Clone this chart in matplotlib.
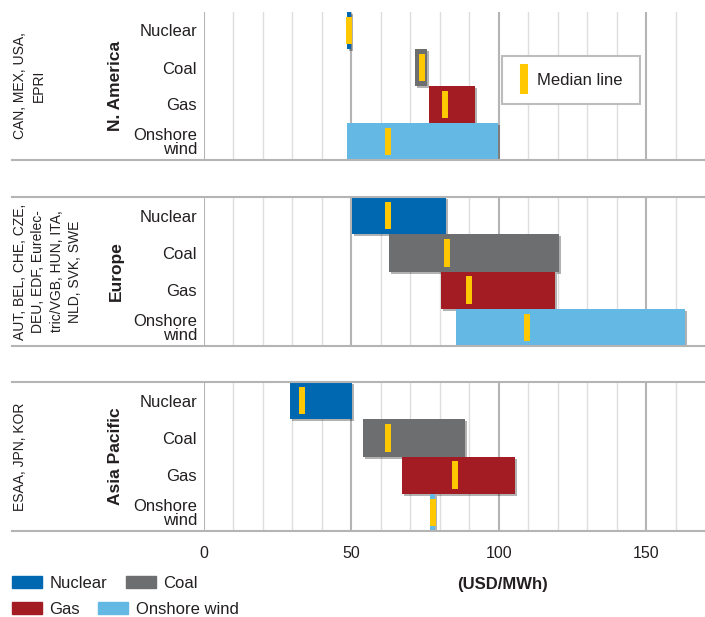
import matplotlib
matplotlib.use('Agg')
import matplotlib.pyplot as plt
from matplotlib.lines import Line2D
from matplotlib.patches import Patch
from matplotlib import patheffects as pe

plt.rcParams['font.family'] = ['Liberation Sans', 'DejaVu Sans']

categories = ['Nuclear', 'Coal', 'Gas', 'Onshore wind']
cat_labels = ['Nuclear', 'Coal', 'Gas', 'Onshore\nwind']
regions = ['N. America', 'Europe', 'Asia Pacific']
countries = ['CAN, MEX, USA,\nEPRI',
             'AUT, BEL, CHE, CZE,\nDEU, EDF, Eurelec-\ntric/VGB, HUN, ITA,\nNLD, SVK, SWE',
             'ESAA, JPN, KOR']

# USD/MWh ranges
low_na = [48.4, 71.5, 76.3, 48.4]
high_na = [49.8, 75.6, 91.9, 99.7]
med_na = [49.2, 73.9, 81.9, 62.3]

low_eu = [50.2, 62.7, 80.3, 85.5]
high_eu = [82.0, 120.3, 119.0, 163.3]
med_eu = [62.3, 82.6, 89.8, 109.7]

low_ap = [29.2, 54.0, 67.2, 76.8]
high_ap = [50.2, 88.5, 105.4, 78.4]
med_ap = [33.4, 62.4, 85.3, 77.6]

colors = ['#0068b1', '#6d6e70', '#a31c24', '#63b8e4']
median_color = '#ffc800'
line_gray = '#b4b4b4'
text_color = '#231f20'

W, H = 705, 617
fig = plt.figure(figsize=(W / 100, H / 100), dpi=100)

# panel top/bottom in pixels
panels = [(12, 160), (197, 346), (382, 531)]
data = [(low_na, high_na, med_na), (low_eu, high_eu, med_eu), (low_ap, high_ap, med_ap)]

left = 204 / W
axes = []
for k, (top, bot) in enumerate(panels):
    ax = fig.add_axes([left, (H - bot) / H, 1 - left, (bot - top) / H])
    axes.append(ax)
    lo, hi, med = data[k]
    widths = [h - l for l, h in zip(lo, hi)]
    bars = ax.barh(range(4), widths, left=lo, height=1.0, color=colors, zorder=3)
    for b in bars:
        b.set_path_effects([pe.SimplePatchShadow(offset=(1.5, -1.5), shadow_rgbFace='k', alpha=0.3),
                            pe.Normal()])
    for i, m in enumerate(med):
        ax.plot([m, m], [i - 0.37, i + 0.37], color=median_color, lw=4.3,
                solid_capstyle='butt', zorder=4)

    ax.set_xlim(0, 170)
    ax.set_ylim(3.5, -0.5)
    ax.set_xticks([0, 50, 100, 150])
    ax.set_xticks(range(0, 170, 10), minor=True)
    ax.grid(which='major', axis='x', color=line_gray, lw=1.5, zorder=1)
    ax.grid(which='minor', axis='x', color='#dedede', lw=1.0, zorder=0)
    ax.set_axisbelow(True)
    for s in ax.spines.values():
        s.set_visible(False)
    ax.set_yticks(range(4))
    ax.set_yticklabels(cat_labels, fontsize=12, color=text_color)
    for t in ax.get_yticklabels():
        t.set_linespacing(0.9)
    ax.tick_params(axis='y', length=0, pad=5)
    ax.tick_params(axis='x', which='both', length=0, pad=11, labelsize=11.5,
                   labelcolor=text_color)
    if k < 2:
        ax.tick_params(axis='x', labelbottom=False)

    # horizontal frame lines running into the label area
    ys = [bot] if k == 0 else [top, bot]
    for y in ys:
        fig.add_artist(Line2D([12 / W, 1], [(H - y) / H] * 2, color=line_gray, lw=1.5))

    yc = (H - (top + bot) / 2) / H
    fig.text(116 / W, yc, regions[k], rotation=90, fontsize=12.5, fontweight='bold',
             ha='center', va='center', color=text_color)
    fig.text(13 / W, yc, countries[k], rotation=90, fontsize=10,
             ha='left', va='center', multialignment='center', linespacing=1.4,
             color=text_color)

# median legend
h_med = Line2D([], [], color=median_color, marker='|', linestyle='none',
               markersize=22, markeredgewidth=5.8)
leg = axes[0].legend([h_med], ['Median line'], loc='center',
                     bbox_to_anchor=(0.7325, 0.54), fancybox=False, framealpha=1,
                     edgecolor='#bdbdbd', fontsize=12, borderpad=1.0,
                     handlelength=0.6, handletextpad=0.5)
leg.get_frame().set_linewidth(1.5)
for t in leg.get_texts():
    t.set_color(text_color)

# technology legend
patches = [Patch(color=c) for c in colors]
for row, idx in enumerate([(0, 1), (2, 3)]):
    lg = fig.legend([patches[i] for i in idx], [categories[i] for i in idx],
                    loc='center left', bbox_to_anchor=(12 / W, (H - (583 + 26 * row)) / H),
                    ncol=2, frameon=False, fontsize=12, borderpad=0, borderaxespad=0,
                    handlelength=1.8, handleheight=0.72, handletextpad=0.45,
                    columnspacing=1.1)
    for t in lg.get_texts():
        t.set_color(text_color)

fig.text(502 / W, (H - 585) / H, '(USD/MWh)', fontsize=12, fontweight='bold',
         ha='center', va='center', color=text_color)

fig.savefig('out.png', dpi=100)
